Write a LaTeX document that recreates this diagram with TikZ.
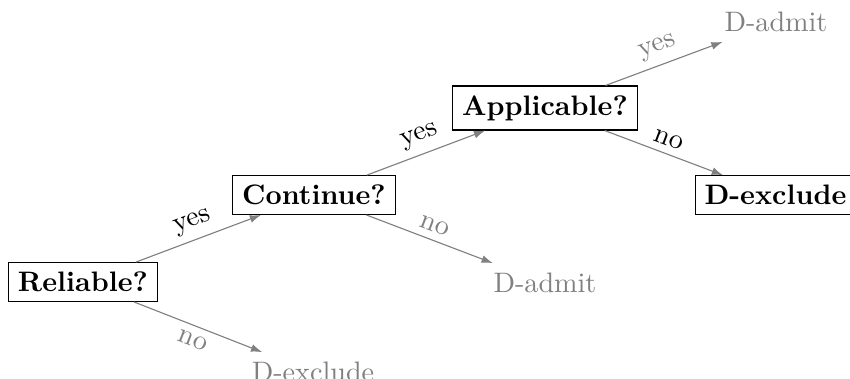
\documentclass[tikz,border=0pt]{standalone}
\usetikzlibrary{arrows.meta}
\begin{document}
\begin{tikzpicture}[x=0.355pt,y=-0.355pt,
  decision/.style={draw,font=\bfseries,inner sep=3.33pt},
  leafgray/.style={text=gray,inner sep=3.33pt},
  conn/.style={draw=gray,-{Latex[length=4pt,width=2.8pt]}},
  lab/.style={midway,above,sloped,inner sep=2.5pt},
  labbelow/.style={midway,below,sloped,inner sep=2.5pt}]
\useasboundingbox (0,0) rectangle (850,378);
\node[decision] (R) at (83,282) {Reliable?};
\node[decision] (C) at (314,195) {Continue?};
\node[leafgray] (DE1) at (313,372) {D-exclude};
\node[decision] (A) at (545,108) {Applicable?};
\node[leafgray] (DA1) at (545,283) {D-admit};
\node[leafgray] (DA2) at (776,22) {D-admit};
\node[decision] (DE2) at (775.5,195) {D-exclude};
\draw[conn] (R) -- node[lab] {yes} (C);
\draw[conn] (R) -- node[labbelow,text=gray] {no} (DE1);
\draw[conn] (C) -- node[lab] {yes} (A);
\draw[conn] (C) -- node[lab,text=gray] {no} (DA1);
\draw[conn] (A) -- node[lab,text=gray] {yes} (DA2);
\draw[conn] (A) -- node[lab] {no} (DE2);
\end{tikzpicture}
\end{document}
